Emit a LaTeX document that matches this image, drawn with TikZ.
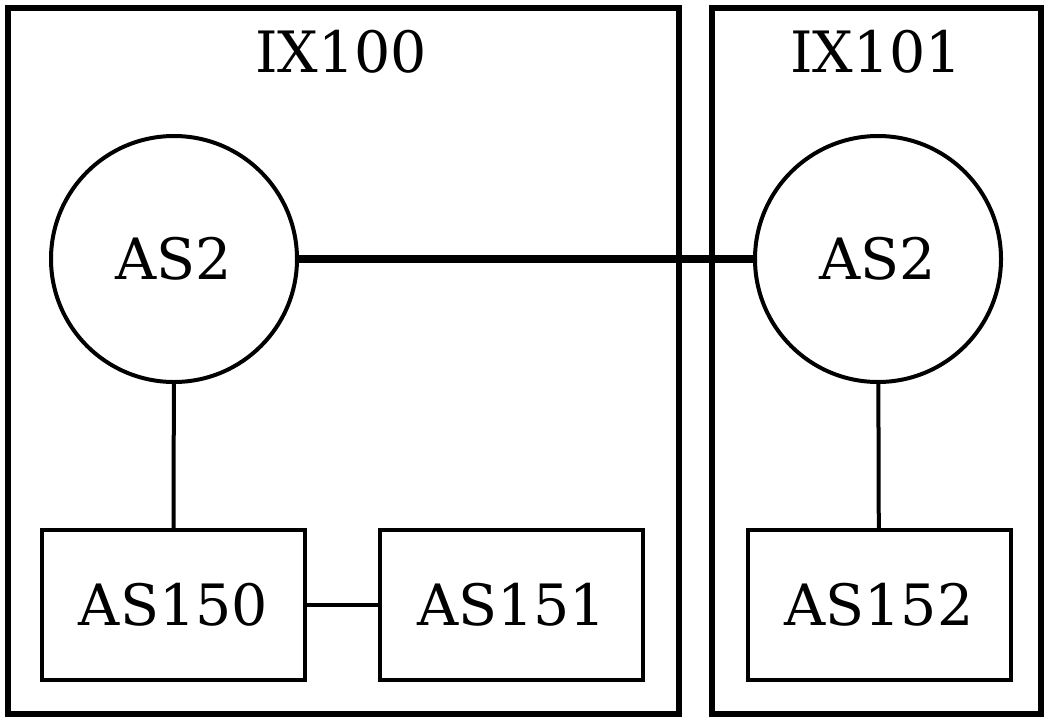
\documentclass[tikz,border=0pt]{standalone}
\usepackage{fontspec}
\setmainfont{DejaVu Serif}
\begin{document}
\begin{tikzpicture}[x=1pt,y=-1pt,
  lbl/.style={font=\fontsize{57}{60}\selectfont, inner sep=0pt},
  ixbox/.style={line width=5.5pt},
  asnode/.style={draw, line width=4pt, circle, minimum size=246pt, inner sep=0pt, font=\fontsize{57}{60}\selectfont},
  asbox/.style={draw, line width=4pt, minimum width=263pt, minimum height=150pt, inner sep=0pt, font=\fontsize{57}{60}\selectfont},
  link/.style={line width=4pt},
  biglink/.style={line width=8.5pt}]
\useasboundingbox (0,0) rectangle (1048,720);
\draw[ixbox] (8,8) rectangle (679,714);
\draw[ixbox] (712,8) rectangle (1041,714);
\node[lbl] (ix100) at (341,52) {IX100};
\node[lbl] (ix101) at (876,52) {IX101};
\node[asnode] (a2l) at (174,259) {AS2};
\node[asnode] (a2r) at (878,259) {AS2};
\node[asbox] (a150) at (173.5,605) {AS150};
\node[asbox] (a151) at (511.5,605) {AS151};
\node[asbox] (a152) at (879,605) {AS152};
\draw[biglink] (a2l) -- (a2r);
\draw[link] (a2l) -- (a150);
\draw[link] (a150) -- (a151);
\draw[link] (a2r) -- (a152);
\end{tikzpicture}
\end{document}
